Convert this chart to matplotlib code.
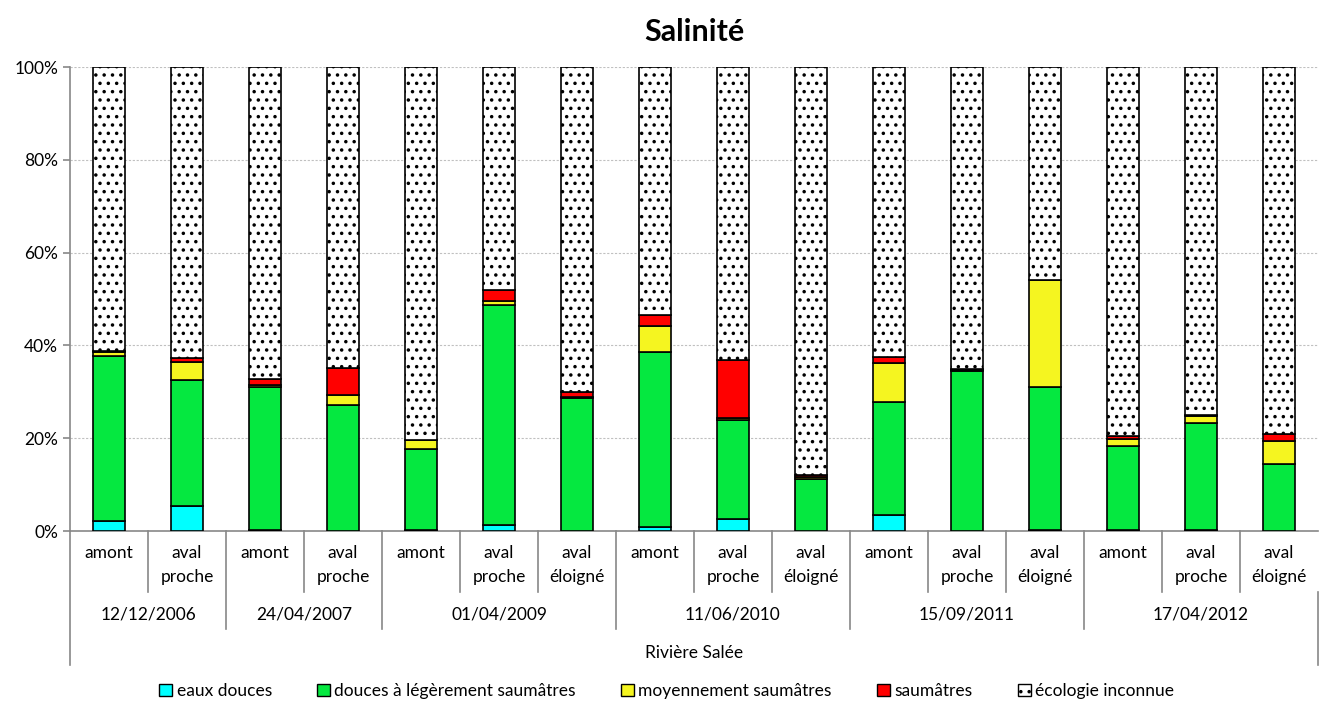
import matplotlib
matplotlib.use("Agg")
import matplotlib.pyplot as plt
import matplotlib.transforms as mtransforms
from matplotlib.patches import Patch
import numpy as np

plt.rcParams["font.family"] = ["Lato", "DejaVu Sans"]
plt.rcParams["hatch.linewidth"] = 1.3

# --- Data (% of taxa per salinity class) ---
stations = ["amont", "aval\nproche",
            "amont", "aval\nproche",
            "amont", "aval\nproche", "aval\néloigné",
            "amont", "aval\nproche", "aval\néloigné",
            "amont", "aval\nproche", "aval\néloigné",
            "amont", "aval\nproche", "aval\néloigné"]
dates = ["12/12/2006", "24/04/2007", "01/04/2009", "11/06/2010", "15/09/2011", "17/04/2012"]
group_sizes = [2, 2, 3, 3, 3, 3]
river = "Rivière Salée"

eaux_douces = [2.2, 5.4, 0.2, 0.0, 0.3, 1.4, 0.0, 0.9, 2.5, 0.0, 3.4, 0.0, 0.3, 0.3, 0.3, 0.0]
douces_legerement = [35.5, 27.1, 30.9, 27.2, 17.4, 47.3, 28.6, 37.7, 21.4, 11.2, 24.4, 34.5, 30.7, 18.0, 23.0, 14.4]
moyennement = [0.9, 4.0, 0.4, 2.2, 1.9, 0.9, 0.3, 5.6, 0.5, 0.5, 8.3, 0.2, 23.0, 1.5, 1.5, 5.0]
saumatres = [0.3, 0.7, 1.3, 5.7, 0.0, 2.3, 1.0, 2.4, 12.5, 0.3, 1.5, 0.3, 0.0, 0.7, 0.2, 1.4]
inconnue = [100 - a - b - c - d for a, b, c, d in
            zip(eaux_douces, douces_legerement, moyennement, saumatres)]

series = [
    ("eaux douces", eaux_douces, "#00FFFF", None),
    ("douces à légèrement saumâtres", douces_legerement, "#05E840", None),
    ("moyennement saumâtres", moyennement, "#F5F520", None),
    ("saumâtres", saumatres, "#FF0000", None),
    ("écologie inconnue", inconnue, "white", ".."),
]

W, H = 1320, 704
FS = 12.5
fig = plt.figure(figsize=(W / 100, H / 100), dpi=100)
ax = fig.add_axes([70 / W, 1 - 531 / H, (1318 - 70) / W, (531 - 67) / H])

x = np.arange(len(stations))
bottom = np.zeros(len(stations))
for name, vals, color, hatch in series:
    ax.bar(x, vals, width=0.41, bottom=bottom, color=color, edgecolor="black",
           linewidth=1.2, hatch=hatch, label=name, zorder=3)
    bottom += np.array(vals)

ax.set_xlim(-0.5, len(stations) - 0.5)
ax.set_ylim(0, 100)
ax.set_yticks(np.arange(0, 101, 20))
ax.set_yticklabels([f"{v}%" for v in range(0, 101, 20)], fontsize=FS)
ax.set_xticks([])
ax.yaxis.grid(True, linestyle=(0, (2, 1.5)), color="#C0C0C0", linewidth=0.8, zorder=0)
for s in ["top", "right"]:
    ax.spines[s].set_visible(False)
ax.spines["left"].set_color("#888888")
ax.spines["bottom"].set_color("#888888")
ax.spines["left"].set_linewidth(1.2)
ax.spines["bottom"].set_linewidth(1.2)
ax.tick_params(axis="y", colors="#888888", labelcolor="black", length=5, width=1.2)

ax.set_title("Salinité", fontsize=22, fontweight="bold", pad=19)

# --- Multi-level category axis ---
tr = mtransforms.blended_transform_factory(ax.transData, fig.transFigure)

def fy(py):
    return 1 - py / H

def vline(xv, y0, y1):
    ax.plot([xv, xv], [fy(y0), fy(y1)], transform=tr, color="#888888",
            linewidth=1.2, clip_on=False)

for i, lab in enumerate(stations):
    ax.text(i, fy(545), lab, transform=tr, ha="center", va="top",
            fontsize=FS, linespacing=1.62)

edges = np.cumsum([0] + group_sizes) - 0.5
for k, d in enumerate(dates):
    ax.text((edges[k] + edges[k + 1]) / 2, fy(615), d, transform=tr,
            ha="center", va="center", fontsize=FS)

group_edges = set(edges[1:-1].tolist())
for i in range(1, len(stations)):
    xe = i - 0.5
    vline(xe, 531, 629 if xe in group_edges else 592)
vline(-0.5, 531, 665)
vline(len(stations) - 0.5, 592, 665)

ax.text((len(stations) - 1) / 2, fy(653), river, transform=tr,
        ha="center", va="center", fontsize=FS)

# --- Legend ---
handles = [Patch(facecolor=c, edgecolor="black", hatch=h, linewidth=1.0)
           for _, _, c, h in series]
fig.legend(handles, [s[0] for s in series], loc="center",
           bbox_to_anchor=(0.505, fy(691)), ncol=5, frameon=False, fontsize=FS,
           handlelength=0.75, handleheight=0.75, handletextpad=0.25, columnspacing=2.6)

fig.savefig("out.png", dpi=100)
